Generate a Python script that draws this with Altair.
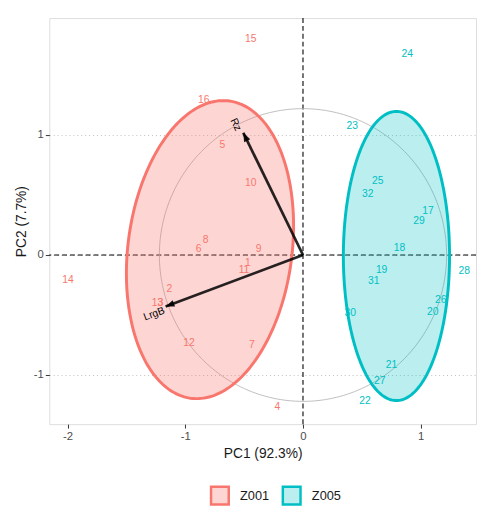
import numpy as np
import pandas as pd
import altair as alt

# ---------------- data ----------------
groups = ["Z001", "Z005"]
group_line_colors = ["#F8766D", "#00BFC4"]
group_fill_colors = ["rgba(248,118,109,0.30)", "rgba(0,191,196,0.27)"]

ind_labels = ["1", "2", "3", "4", "5", "6", "7", "8", "9", "10", "11", "12", "13", "14", "15", "16",
              "17", "18", "19", "20", "21", "22", "23", "24", "25", "26", "27", "28", "29", "30", "31", "32"]
ind_group = ["Z001"] * 16 + ["Z005"] * 16
ind_pc1 = [-0.468, -1.136, -1.211, -0.217, -0.685, -0.886, -0.434, -0.827, -0.376, -0.443, -0.501, -0.969,
           -1.236, -1.997, -0.443, -0.844,
           1.061, 0.819, 0.668, 1.103, 0.752, 0.526, 0.418, 0.886, 0.635, 1.170, 0.652, 1.370, 0.986,
           0.401, 0.602, 0.551]
ind_pc2 = [-0.066, -0.287, -0.400, -1.270, 0.918, 0.049, -0.754, 0.123, 0.049, 0.598, -0.123, -0.738,
           -0.400, -0.205, 1.803, 1.295,
           0.369, 0.057, -0.123, -0.475, -0.918, -1.221, 1.074, 1.672, 0.615, -0.377, -1.049, -0.131,
           0.279, -0.484, -0.221, 0.508]

var_names = ["Rz", "LrgB"]
var_pc1 = [-0.507, -1.167]
var_pc2 = [1.019, -0.429]
var_label_pc1 = [-0.572, -1.264]
var_label_pc2 = [1.086, -0.492]

# concentration ellipses: centre, half extents and correlation
ell_cx = [-0.790, 0.794]
ell_cy = [0.045, -0.008]
ell_hx = [0.710, 0.451]
ell_hy = [1.242, 1.205]
ell_r = [0.159, 0.0]

circle_radius = 1.22

x_ticks = [-2, -1, 0, 1]
y_ticks = [-1, 0, 1]
x_domain = [-2.155, 1.47]
y_domain = [-1.41, 1.975]
x_title = "PC1 (92.3%)"
y_title = "PC2 (7.7%)"

W, H = 434, 413
FONT = "Liberation Sans"

# ---------------- derived tables ----------------
ind_df = pd.DataFrame({"x": ind_pc1, "y": ind_pc2, "label": ind_labels, "group": ind_group})
ind_df["col"] = ind_df["group"].map(dict(zip(groups, group_line_colors)))

t = np.linspace(0, 2 * np.pi, 241)
phi = np.linspace(-np.pi / 2, np.pi / 2, 241)
outline_rows, fill_rows = [], []
for g, cx, cy, hx, hy, r in zip(groups, ell_cx, ell_cy, ell_hx, ell_hy, ell_r):
    s = np.sqrt(1 - r * r)
    ox = cx + hx * np.cos(t)
    oy = cy + hy * (r * np.cos(t) + s * np.sin(t))
    for k, (a, b) in enumerate(zip(ox, oy)):
        outline_rows.append({"group": g, "k": k, "x": a, "y": b})
    fy = cy + hy * np.sin(phi)
    mid = cx + r * hx * np.sin(phi)
    half = hx * s * np.cos(phi)
    for k, (yy, m, h) in enumerate(zip(fy, mid, half)):
        fill_rows.append({"group": g, "k": k, "y": yy, "xl": m - h, "xh": m + h})
outline_df = pd.DataFrame(outline_rows)
fill_df = pd.DataFrame(fill_rows)

circle_df = pd.DataFrame({"k": np.arange(len(t)),
                          "x": circle_radius * np.cos(t),
                          "y": circle_radius * np.sin(t)})

px_x = W / (x_domain[1] - x_domain[0])
px_y = H / (y_domain[1] - y_domain[0])
var_df = pd.DataFrame({"name": var_names, "x": var_pc1, "y": var_pc2,
                       "lx": var_label_pc1, "ly": var_label_pc2})
sdx = var_df["x"] * px_x
sdy = -var_df["y"] * px_y
var_df["head_ang"] = np.mod(np.degrees(np.arctan2(sdx, -sdy)), 360)
var_df["text_ang"] = np.mod(np.degrees(np.arctan2(-sdy, -sdx)), 360)
var_df["x0"] = 0.0
var_df["y0"] = 0.0

zero_df = pd.DataFrame({"v": [0.0]})

# ---------------- encodings ----------------
xs = alt.Scale(domain=x_domain, nice=False, zero=False)
ys = alt.Scale(domain=y_domain, nice=False, zero=False)
x_axis = alt.Axis(values=x_ticks, title=x_title, grid=False, domain=False, tickSize=4,
                  tickColor="#333333", labelColor="#4D4D4D", labelFontSize=11.5, labelPadding=3,
                  titleFontSize=14, titleFontWeight="normal", titleColor="#1A1A1A", titlePadding=4,
                  labelFont=FONT, titleFont=FONT, labelExpr="toString(datum.value)")
y_axis = alt.Axis(values=y_ticks, title=y_title, grid=True, gridDash=[1, 3], gridColor="#BDBDBD",
                  gridWidth=1, domain=False, tickSize=4, tickColor="#333333", labelColor="#4D4D4D",
                  labelFontSize=11.5, labelPadding=2, titleFontSize=14, titleFontWeight="normal",
                  titleColor="#1A1A1A", titlePadding=5, labelFont=FONT, titleFont=FONT,
                  labelExpr="toString(datum.value)")


def X(f):
    return alt.X(f, type="quantitative", scale=xs, axis=x_axis)


def Y(f):
    return alt.Y(f, type="quantitative", scale=ys, axis=y_axis)


legend = alt.Legend(title=None, orient="none", legendX=163, legendY=475, direction="horizontal",
                    symbolType="square", symbolSize=324, symbolStrokeWidth=2.5, labelFontSize=13,
                    labelColor="#1A1A1A", labelFont=FONT, labelOffset=10, columnPadding=8, padding=0)

vline = alt.Chart(zero_df).mark_rule(color="black", strokeDash=[5, 3], strokeWidth=1.1).encode(x=X("v"))
hline = alt.Chart(zero_df).mark_rule(color="black", strokeDash=[5, 3], strokeWidth=1.1).encode(y=Y("v"))

circle = alt.Chart(circle_df).mark_line(color="#AFAFAF", strokeWidth=0.8).encode(
    x=X("x"), y=Y("y"), order=alt.Order("k:Q"))

labels = alt.Chart(ind_df).mark_text(fontSize=10.5, font=FONT).encode(
    x=X("x"), y=Y("y"), text="label:N", color=alt.Color("col:N", scale=None))

fills = alt.Chart(fill_df).mark_area(orient="horizontal").encode(
    y=Y("y"), x=X("xl"), x2=alt.X2("xh"),
    fill=alt.Fill("group:N", scale=alt.Scale(domain=groups, range=group_fill_colors), legend=legend))

outlines = alt.Chart(outline_df).mark_line(strokeWidth=3).encode(
    x=X("x"), y=Y("y"), order=alt.Order("k:Q"),
    stroke=alt.Stroke("group:N", scale=alt.Scale(domain=groups, range=group_line_colors), legend=legend))

arrows = alt.Chart(var_df).mark_rule(color="black", opacity=0.85, strokeWidth=2.8).encode(
    x=X("x0"), y=Y("y0"), x2=alt.X2("x"), y2=alt.Y2("y"))

heads = alt.Chart(var_df).mark_point(shape="M0,0 L-0.7,1.8 L0.7,1.8 Z", filled=True, size=100,
                                     color="black", opacity=0.9).encode(
    x=X("x"), y=Y("y"), angle=alt.Angle("head_ang:Q", scale=None))

var_text = alt.Chart(var_df).mark_text(fontSize=10.5, font=FONT, color="black").encode(
    x=X("lx"), y=Y("ly"), text="name:N", angle=alt.Angle("text_ang:Q", scale=None))

chart = alt.layer(vline, hline, circle, labels, fills, outlines, arrows, heads, var_text).properties(
    width=W, height=H, autosize=alt.AutoSizeParams(type="none"),
    padding={"left": 42, "top": 6, "right": 2, "bottom": 80}
).configure_view(stroke=None).configure(background="white")

chart.save("out.html", embed_options={"renderer": "svg", "actions": False})
